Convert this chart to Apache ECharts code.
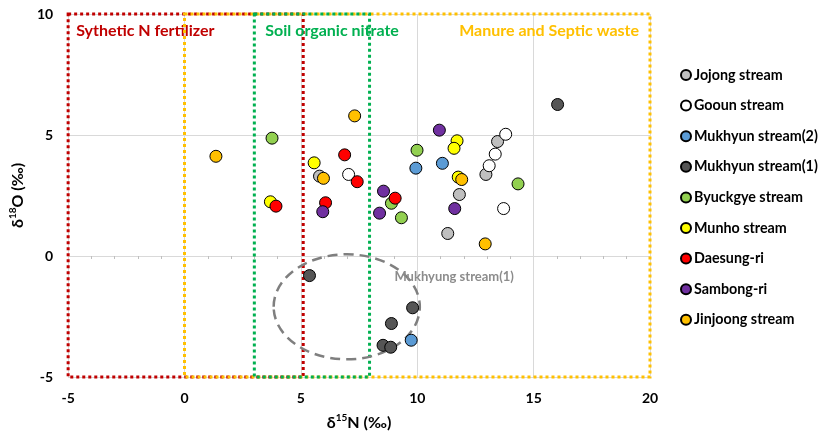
<!DOCTYPE html>
<html><head><meta charset="utf-8">
<script src="https://cdn.jsdelivr.net/npm/echarts@6/dist/echarts.min.js"></script>
<style>html,body{margin:0;padding:0;background:#fff}#c{width:822px;height:436px}</style>
</head><body><div id="c"></div>
<script>
// ---- data ----
const seriesNames = ['Jojong stream','Gooun stream','Mukhyun stream(2)','Mukhyun stream(1)','Byuckgye stream','Munho stream','Daesung-ri','Sambong-ri','Jinjoong stream'];
const jojong   = [[5.80,3.30],[13.45,4.73],[12.95,3.37],[11.81,2.54],[11.31,0.93]];
const gooun    = [[7.05,3.37],[13.80,5.03],[13.35,4.21],[13.09,3.73],[13.71,1.96]];
const mukhyun2 = [[9.94,3.63],[11.08,3.83],[9.74,-3.48]];
const mukhyun1 = [[16.03,6.26],[5.37,-0.81],[9.80,-2.14],[8.89,-2.79],[8.53,-3.69],[8.86,-3.77]];
const byuckgye = [[3.76,4.87],[9.99,4.37],[14.33,2.98],[8.89,2.18],[9.32,1.58]];
const munho    = [[5.57,3.85],[11.71,4.76],[11.58,4.45],[11.76,3.26],[3.69,2.24]];
const daesung  = [[6.88,4.18],[7.42,3.07],[3.93,2.06],[6.06,2.20],[9.05,2.39]];
const sambong  = [[10.95,5.20],[5.94,1.83],[8.55,2.68],[8.38,1.77],[11.61,1.96]];
const jinjoong = [[1.35,4.12],[7.31,5.79],[5.97,3.21],[11.91,3.16],[12.92,0.50]];
const allData = [jojong,gooun,mukhyun2,mukhyun1,byuckgye,munho,daesung,sambong,jinjoong];
const colors = ['#BFBFBF','#FFFFFF','#5B9BD5','#555555','#92D050','#FFFF00','#FF0000','#7030A0','#FFC000'];

// source boxes: [xMin, xMax, yMin, yMax]
const boxNames = ['Sythetic N fertilizer','Manure and Septic waste','Soil organic nitrate'];
const boxRanges = [[-5,5.1,-5,10],[0,20,-5,10],[3,7.95,-5,10]];
const boxColors = ['#C00000','#FFC000','#00B050'];
const boxLabelAlign = ['left','right','left'];

// dashed ellipse: [cx, cy, rx, ry] and its label [x, y]
const ellipseSpec = [6.97,-2.10,3.14,2.17];
const ellipseLabel = 'Mukhyung stream(1)';
const ellipseLabelAt = [9.02,-0.85];

const xTicks = {min:-5, max:20, interval:5};
const yTicks = {min:-5, max:10, interval:5};
const FONT = 'Lato';

const chart = echarts.init(document.getElementById('c'));
const series = [];
series.push({
  type:'custom', name:'boxes', silent:true, z:1,
  data:boxRanges.map((b,i)=>b.concat([i])),
  renderItem(params, api){
    const i = api.value(4);
    const p0 = api.coord([api.value(0), api.value(3)]);
    const p1 = api.coord([api.value(1), api.value(2)]);
    const left = boxLabelAlign[i]==='left';
    return {type:'group', children:[
      {type:'rect', shape:{x:p0[0], y:p0[1], width:p1[0]-p0[0], height:p1[1]-p0[1]},
       style:{fill:null, stroke:boxColors[i], lineWidth:3, lineDash:[3,3]}},
      {type:'text', x: left ? p0[0]+(i===0?8:11) : p1[0]-11, y:p0[1]+17,
       style:{text:boxNames[i], fill:boxColors[i], font:'bold 16px '+FONT, align: left?'left':'right', verticalAlign:'middle'}}
    ]};
  }
});
series.push({
  type:'custom', name:'ellipse', silent:true, z:2,
  data:[ellipseSpec.concat(ellipseLabelAt)],
  renderItem(params, api){
    const c = api.coord([api.value(0), api.value(1)]);
    const s = api.size([api.value(2), api.value(3)]);
    const t = api.coord([api.value(4), api.value(5)]);
    return {type:'group', children:[
      {type:'ellipse', shape:{cx:c[0], cy:c[1], rx:s[0], ry:s[1]}, style:{fill:null, stroke:'#7F7F7F', lineWidth:2.5, lineDash:[10,6]}},
      {type:'text', x:t[0], y:t[1], style:{text:ellipseLabel, fill:'#8C8C8C', font:'bold 13px '+FONT, verticalAlign:'middle', align:'left'}}
    ]};
  }
});
allData.forEach((d,i)=>{
  series.push({
    type:'scatter', name:seriesNames[i], data:d, symbol:'circle', symbolSize:12, z:3,
    itemStyle:{color:colors[i], borderColor:'#000', borderWidth:1, opacity:1}
  });
});

chart.setOption({
  animation:false,
  textStyle:{fontFamily:FONT},
  grid:{left:65, right:172, top:14, bottom:58.5},
  legend:{
    data:seriesNames, orient:'vertical', left:675, top:63, icon:'circle',
    itemWidth:10, itemHeight:10, itemGap:16.6,
    textStyle:{fontFamily:FONT, fontWeight:'bold', fontSize:14.3, color:'#000', padding:[0,0,0,-2]}
  },
  xAxis:{
    type:'value', min:xTicks.min, max:xTicks.max, interval:xTicks.interval,
    axisLine:{show:true, lineStyle:{color:'#D9D9D9'}},
    axisTick:{show:false},
    minorTick:{show:true, splitNumber:5, length:3, lineStyle:{color:'#BFBFBF'}},
    splitLine:{show:true, lineStyle:{color:'#D9D9D9', width:1}},
    axisLabel:{fontFamily:FONT, fontWeight:'bold', fontSize:14, color:'#000', margin:14},
    name:'{d|δ}{s|15}{d|N (‰)}', nameLocation:'middle', nameGap:36,
    nameTextStyle:{rich:{d:{fontFamily:FONT, fontWeight:'bold', fontSize:16, color:'#000', lineHeight:20}, s:{fontFamily:FONT, fontWeight:'bold', fontSize:10, color:'#000', verticalAlign:'top', lineHeight:20}}}
  },
  yAxis:{
    type:'value', min:yTicks.min, max:yTicks.max, interval:yTicks.interval,
    axisLine:{show:false}, axisTick:{show:false},
    splitLine:{show:true, lineStyle:{color:'#D9D9D9', width:1}},
    axisLabel:{fontFamily:FONT, fontWeight:'bold', fontSize:14, color:'#000', margin:15},
    name:'{d|δ}{s|18}{d|O (‰)}', nameLocation:'middle', nameGap:38,
    nameTextStyle:{rich:{d:{fontFamily:FONT, fontWeight:'bold', fontSize:16, color:'#000', lineHeight:20}, s:{fontFamily:FONT, fontWeight:'bold', fontSize:10, color:'#000', verticalAlign:'top', lineHeight:20}}}
  },
  series:series
});
</script>
</body></html>
